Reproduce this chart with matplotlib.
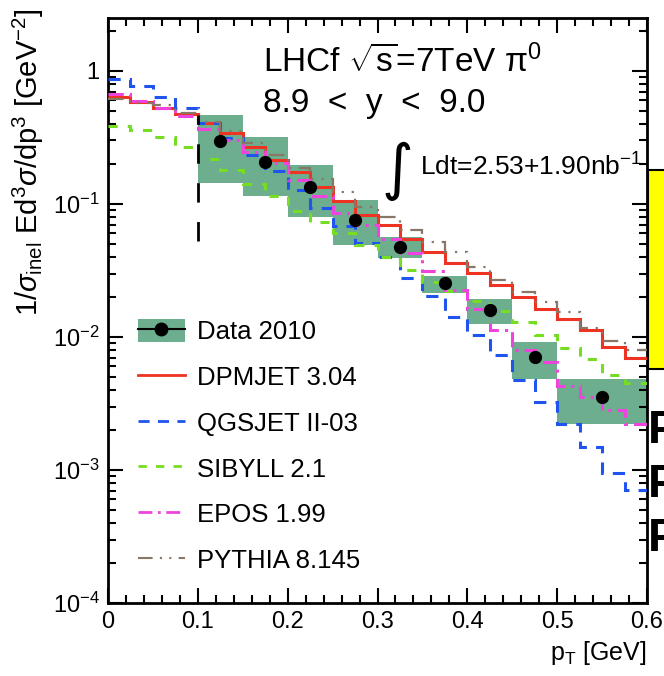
import numpy as np
import matplotlib
matplotlib.use("Agg")
import matplotlib.pyplot as plt
from matplotlib.patches import Rectangle, Patch
from matplotlib.lines import Line2D
from matplotlib.ticker import LogLocator, MultipleLocator, NullFormatter

plt.rcParams['font.family'] = ['Liberation Sans', 'DejaVu Sans']
plt.rcParams['mathtext.fontset'] = 'custom'
plt.rcParams['mathtext.rm'] = 'Liberation Sans'
plt.rcParams['mathtext.it'] = 'Liberation Sans:italic'
plt.rcParams['mathtext.sf'] = 'Liberation Sans'

# ---------------- data ----------------
model_edges = np.round(np.arange(0, 0.6001, 0.025), 3)

dpmjet = [0.634, 0.582, 0.530, 0.472, 0.404, 0.344, 0.270, 0.214, 0.175, 0.135,
          0.106, 0.0827, 0.0695, 0.0543, 0.0438, 0.0360, 0.0301, 0.0246, 0.0201,
          0.0162, 0.0136, 0.0113, 0.00837, 0.00699]
qgsjet = [0.867, 0.776, 0.634, 0.530, 0.409, 0.315, 0.233, 0.177, 0.127, 0.0928,
          0.0684, 0.0509, 0.0400, 0.0278, 0.0203, 0.0141, 0.0104, 0.00733, 0.00475,
          0.00325, 0.00222, 0.00149, 0.000949, 0.000708]
sibyll = [0.388, 0.360, 0.317, 0.270, 0.218, 0.180, 0.141, 0.115, 0.0891, 0.0736,
          0.0605, 0.0492, 0.0402, 0.0319, 0.0259, 0.0222, 0.0187, 0.0157, 0.0130,
          0.0104, 0.00827, 0.00684, 0.00518, 0.00451]
epos = [0.668, 0.598, 0.524, 0.459, 0.366, 0.303, 0.247, 0.202, 0.151, 0.115,
        0.0856, 0.0695, 0.0546, 0.0428, 0.0313, 0.0226, 0.0162, 0.0113, 0.00798,
        0.00649, 0.00428, 0.00354, 0.00283, 0.00222]
pythia = [0.616, 0.575, 0.555, 0.486, 0.416, 0.354, 0.288, 0.234, 0.187, 0.154,
          0.123, 0.0949, 0.0798, 0.0638, 0.0518, 0.0436, 0.0336, 0.0268, 0.0218,
          0.0183, 0.0154, 0.0117, 0.00933, 0.00798]

data_lo_edge = [0.10, 0.15, 0.20, 0.25, 0.30, 0.35, 0.40, 0.45, 0.50]
data_hi_edge = [0.15, 0.20, 0.25, 0.30, 0.35, 0.40, 0.45, 0.50, 0.60]
data_x = [0.125, 0.175, 0.225, 0.275, 0.325, 0.375, 0.425, 0.475, 0.55]
data_y = [0.298, 0.207, 0.134, 0.0758, 0.0475, 0.0255, 0.0160, 0.00708, 0.00354]
sys_lo = [0.144, 0.115, 0.080, 0.049, 0.0394, 0.0214, 0.0125, 0.00484, 0.00221]
sys_hi = [0.467, 0.319, 0.196, 0.107, 0.0563, 0.0288, 0.0193, 0.00918, 0.00484]

cut_x = 0.1
cut_range = [0.053, 0.47]

labels = ["Data 2010", "DPMJET 3.04", "QGSJET II-03", "SIBYLL 2.1", "EPOS 1.99", "PYTHIA 8.145"]

# ---------------- figure ----------------
W, H = 664, 676
fig = plt.figure(figsize=(W / 100, H / 100), dpi=100)
ax = fig.add_axes([108 / W, 73 / H, 539 / W, 585 / H])
ax.set_yscale('log')
ax.set_xlim(0, 0.6)
ax.set_ylim(1e-4, 2.5)

box_col = '#6cae8e'
widths = np.array(data_hi_edge) - np.array(data_lo_edge)
ax.bar(data_lo_edge, np.array(sys_hi) - np.array(sys_lo), width=widths,
       bottom=sys_lo, align='edge', color=box_col, edgecolor='none', zorder=1)

c_red, c_blue, c_green, c_mag, c_gray = '#ee3322', '#1f55ee', '#77dd22', '#ee44dd', '#887766'
ls_blue = (0, (4, 3))
ls_green = (0, (3, 3.3))
ls_mag = (0, (5, 2, 1, 2))
ls_gray = (0, (7, 3.5, 1, 3.5, 1, 3.5))
ax.stairs(dpmjet, model_edges, baseline=None, color=c_red, lw=2.2, zorder=3)
ax.stairs(qgsjet, model_edges, baseline=None, color=c_blue, lw=2.2, linestyle=ls_blue, zorder=3)
ax.stairs(sibyll, model_edges, baseline=None, color=c_green, lw=2.2, linestyle=ls_green, zorder=3)
ax.stairs(epos, model_edges, baseline=None, color=c_mag, lw=2.2, linestyle=ls_mag, zorder=3)
ax.stairs(pythia, model_edges, baseline=None, color=c_gray, lw=1.6, linestyle=ls_gray, zorder=3)

ax.vlines(cut_x, cut_range[0], cut_range[1], colors='black', lw=2, linestyles=(0, (7, 7)), zorder=4)

ax.plot(data_x, data_y, 'o', color='black', ms=8.5, zorder=5)

# ticks
ax.xaxis.set_minor_locator(MultipleLocator(0.02))
ax.yaxis.set_minor_locator(LogLocator(base=10, subs=np.arange(2, 10), numticks=20))
ax.yaxis.set_minor_formatter(NullFormatter())
ax.set_xticks([0, 0.1, 0.2, 0.3, 0.4, 0.5, 0.6])
ax.set_xticklabels(["0", "0.1", "0.2", "0.3", "0.4", "0.5", "0.6"])
ax.set_yticks([1e-4, 1e-3, 1e-2, 1e-1, 1])
ax.set_yticklabels([r"$10^{-4}$", r"$10^{-3}$", r"$10^{-2}$", r"$10^{-1}$", "1"])
ax.tick_params(which='both', direction='in', top=True, right=True, width=1.5, labelsize=17)
ax.tick_params(which='major', length=11, pad=6)
ax.tick_params(which='minor', length=6)
for s in ax.spines.values():
    s.set_linewidth(2)

ax.set_xlabel(r"p$_{\mathregular{T}}$ [GeV]", fontsize=18, loc='right', labelpad=4)
fig.text(28 / W, 1 - 8 / H,
         r"1/$\sigma_{\mathregular{inel}}$ Ed$^{3}\sigma$/dp$^{3}$ [GeV$^{-2}$]",
         rotation=90, ha='center', va='top', fontsize=21)

# texts
ax.text(0.287, 0.925, "LHCf $\\sqrt{\\mathregular{s}}$=7TeV \u03c0$^{0}$", transform=ax.transAxes,
        fontsize=24, va='center')
ax.text(0.287, 0.853, "8.9  <  y  <  9.0", transform=ax.transAxes, fontsize=24, va='center')
ax.text(0.508, 0.737, "\u222b", transform=ax.transAxes, fontsize=44, va='center',
        family=['DejaVu Sans'])
ax.text(0.579, 0.745, r"Ldt=2.53+1.90nb$^{-1}$", transform=ax.transAxes, fontsize=19, va='center')

# legend
data_handle = (Patch(facecolor=box_col, edgecolor='none'),
               Line2D([], [], color='black', marker='o', ms=9, lw=1.5))
handles = [data_handle,
           Line2D([], [], color=c_red, lw=2),
           Line2D([], [], color=c_blue, lw=2, linestyle=ls_blue),
           Line2D([], [], color=c_green, lw=2, linestyle=ls_green),
           Line2D([], [], color=c_mag, lw=2, linestyle=ls_mag),
           Line2D([], [], color=c_gray, lw=1.5, linestyle=ls_gray)]
ax.legend(handles, labels, loc='upper left', bbox_to_anchor=(0.055, 0.486),
          frameon=False, fontsize=18.5, handlelength=1.83, handleheight=1.0,
          handletextpad=0.47, labelspacing=0.8, borderaxespad=0, borderpad=0)

# slide fragments on the right edge
fig.patches.append(Rectangle((648 / W, 1 - 369 / H), 30 / W, 199 / H, transform=fig.transFigure,
                             facecolor='#ffff00', edgecolor='black', lw=1.5, zorder=0))
for yy in [431, 485, 539]:
    fig.text(648 / W, 1 - yy / H, "P", fontsize=34, fontweight='bold', va='center', ha='left')

fig.savefig("out.png", dpi=100)
